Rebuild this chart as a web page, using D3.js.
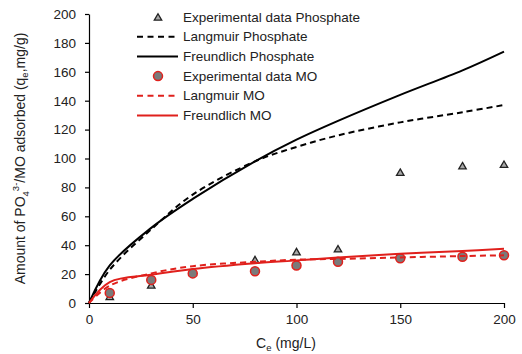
<!DOCTYPE html>
<html>
<head>
<meta charset="utf-8">
<script src="https://cdn.jsdelivr.net/npm/d3@7"></script>
<style>
  body { margin: 0; background: #fff; }
  svg { font-family: "Liberation Sans", Arial, sans-serif; }
</style>
</head>
<body>
<div id="chart"></div>
<script>
// experimental points
var expX = [10, 30, 80, 100, 120, 150, 180, 200];
var expPhosphate = [4.5, 12.5, 30, 35.5, 37.5, 90.5, 95, 96];
var expMOX = [10, 30, 50, 80, 100, 120, 150, 180, 200];
var expMO = [7, 16, 20.5, 22, 26, 28.5, 31, 32, 33];

// model curves
var fitX = [0, 10, 30, 50, 80, 100, 120, 150, 180, 200];
var langmuirPhosphate = [0, 23, 51, 75, 98, 108, 116, 125, 132, 137];
var freundlichPhosphate = [0, 26, 52, 72, 98, 113, 126, 144, 161, 174];
var langmuirMO = [0, 12, 20.5, 25.5, 28.5, 30, 30.5, 31.5, 32.5, 33];
var freundlichMO = [0, 14.5, 19.5, 23.5, 27.5, 29.5, 31.5, 34, 36, 37.5];

var xTicks = [0, 50, 100, 150, 200];
var yTicks = d3.range(0, 201, 20);

var legendLabels = ["Experimental data Phosphate", "Langmuir Phosphate", "Freundlich Phosphate",
                    "Experimental data MO", "Langmuir MO", "Freundlich MO"];

var width = 522, height = 354;
var red = "#e0201c";

var svg = d3.select("#chart").append("svg")
  .attr("width", width)
  .attr("height", height);

var x = d3.scaleLinear().domain([0, 200]).range([89, 504]);
var y = d3.scaleLinear().domain([0, 200]).range([303, 14]);

// axes
svg.append("g")
  .attr("transform", "translate(" + x(0) + ",0)")
  .call(d3.axisLeft(y).tickValues(yTicks).tickSize(4).tickSizeOuter(0).tickPadding(9));
svg.append("g")
  .attr("transform", "translate(0," + y(0) + ")")
  .call(d3.axisBottom(x).tickValues(xTicks).tickSize(5).tickSizeOuter(0).tickPadding(6));

svg.selectAll(".tick text")
  .attr("font-size", 13.5)
  .attr("font-family", "Liberation Sans, Arial, sans-serif")
  .attr("fill", "#222");
svg.selectAll(".domain, .tick line").attr("stroke", "#000").attr("stroke-width", 1.2);

// axis titles
var yTitle = svg.append("text")
  .attr("transform", "translate(25," + ((y(0) + y(200)) / 2) + ") rotate(-90)")
  .attr("text-anchor", "middle")
  .attr("font-size", 14)
  .attr("fill", "#222");
yTitle.append("tspan").text("Amount of PO");
yTitle.append("tspan").attr("font-size", 9.5).attr("dy", 4).text("4");
yTitle.append("tspan").attr("font-size", 9.5).attr("dy", -10).text("3-");
yTitle.append("tspan").attr("dy", 6).text("/MO adsorbed (q");
yTitle.append("tspan").attr("font-size", 9.5).attr("dy", 3).text("e");
yTitle.append("tspan").attr("dy", -3).text(",mg/g)");

var xTitle = svg.append("text")
  .attr("x", 286)
  .attr("y", 348)
  .attr("text-anchor", "middle")
  .attr("font-size", 14)
  .attr("fill", "#222");
xTitle.append("tspan").text("C");
xTitle.append("tspan").attr("font-size", 9.5).attr("dy", 3).text("e");
xTitle.append("tspan").attr("dy", -3).text(" (mg/L)");

var line = d3.line()
  .x(function(d) { return x(d[0]); })
  .y(function(d) { return y(d[1]); })
  .curve(d3.curveCatmullRom.alpha(0.5));

function pairs(xs, ys) { return xs.map(function(v, i) { return [v, ys[i]]; }); }

var triangle = d3.symbol().type(d3.symbolTriangle).size(24);

function drawTriangle(g, cx, cy) {
  g.append("path").attr("d", triangle)
    .attr("transform", "translate(" + cx + "," + (cy + 1) + ")")
    .attr("fill", "#a8a8a8").attr("stroke", "#222").attr("stroke-width", 1.3);
}
function drawCircle(g, cx, cy) {
  g.append("circle").attr("cx", cx).attr("cy", cy).attr("r", 4.5)
    .attr("fill", "#7a7a7a").attr("stroke", red).attr("stroke-width", 1.5);
}

var plot = svg.append("g");

// experimental phosphate
pairs(expX, expPhosphate).forEach(function(d) { drawTriangle(plot, x(d[0]), y(d[1])); });

plot.append("path").datum(pairs(fitX, langmuirPhosphate))
  .attr("d", line).attr("fill", "none").attr("stroke", "#000")
  .attr("stroke-width", 2).attr("stroke-dasharray", "6,4");
plot.append("path").datum(pairs(fitX, freundlichPhosphate))
  .attr("d", line).attr("fill", "none").attr("stroke", "#000").attr("stroke-width", 2);

pairs(expMOX, expMO).forEach(function(d) { drawCircle(plot, x(d[0]), y(d[1])); });

plot.append("path").datum(pairs(fitX, langmuirMO))
  .attr("d", line).attr("fill", "none").attr("stroke", red)
  .attr("stroke-width", 2).attr("stroke-dasharray", "6,4");
plot.append("path").datum(pairs(fitX, freundlichMO))
  .attr("d", line).attr("fill", "none").attr("stroke", red).attr("stroke-width", 2);

// legend
var legend = svg.append("g");
var lx0 = 137, lx1 = 178, ly0 = 17, lstep = 19.7;
legendLabels.forEach(function(lab, i) {
  var ly = ly0 + i * lstep;
  if (i === 0) drawTriangle(legend, 158, ly);
  else if (i === 3) drawCircle(legend, 158, ly);
  else {
    var col = i < 3 ? "#000" : red;
    legend.append("line").attr("x1", lx0).attr("x2", lx1).attr("y1", ly).attr("y2", ly)
      .attr("stroke", col).attr("stroke-width", 2)
      .attr("stroke-dasharray", (i === 1 || i === 4) ? "6,4.5" : null);
  }
  legend.append("text").attr("x", 183).attr("y", ly + 4.5)
    .attr("font-size", 13.5).attr("fill", "#222").text(lab);
});
</script>
</body>
</html>
